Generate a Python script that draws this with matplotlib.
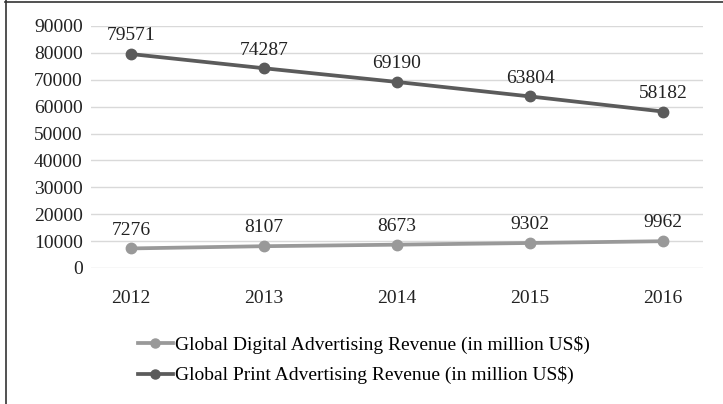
import matplotlib
matplotlib.use("Agg")
import matplotlib.pyplot as plt
from matplotlib.lines import Line2D

years = ["2012", "2013", "2014", "2015", "2016"]
digital = [7276, 8107, 8673, 9302, 9962]
print_rev = [79571, 74287, 69190, 63804, 58182]
y_ticks = [0, 10000, 20000, 30000, 40000, 50000, 60000, 70000, 80000, 90000]

digital_label = "Global Digital Advertising Revenue (in million US$)"
print_label = "Global Print Advertising Revenue (in million US$)"

plt.rcParams["font.family"] = ["Liberation Serif", "DejaVu Serif"]
FS = 14

fig = plt.figure(figsize=(7.23, 4.04), dpi=100)
ax = fig.add_axes([91 / 723, 136 / 404, 612 / 723, 242 / 404])

x = list(range(len(years)))
c_digital = "#999999"
c_print = "#5b5b5b"

ax.plot(x, digital, color=c_digital, lw=2.7, marker="o", ms=7.5, zorder=3)
ax.plot(x, print_rev, color=c_print, lw=2.7, marker="o", ms=7.5, zorder=3)

for xi, v in zip(x, digital):
    ax.annotate(f"{v}", (xi, v), xytext=(0, 7), textcoords="offset points",
                ha="center", va="bottom", fontsize=FS, color="#222222")
for xi, v in zip(x, print_rev):
    ax.annotate(f"{v}", (xi, v), xytext=(0, 7), textcoords="offset points",
                ha="center", va="bottom", fontsize=FS, color="#222222")

ax.set_xlim(-0.3, len(years) - 1 + 0.3)
ax.set_ylim(0, 90000)
ax.set_yticks(y_ticks)
ax.set_yticklabels([str(t) for t in y_ticks])
ax.set_xticks(x)
ax.set_xticklabels(years)
ax.grid(axis="y", color="#d9d9d9", lw=1.0, zorder=0)
ax.set_axisbelow(True)
for s in ax.spines.values():
    s.set_visible(False)
ax.tick_params(axis="both", length=0, labelsize=FS, colors="#222222")
ax.tick_params(axis="y", pad=6)
ax.tick_params(axis="x", pad=16)

handles = [
    Line2D([], [], color=c_digital, lw=2.7, marker="o", ms=6.5),
    Line2D([], [], color=c_print, lw=2.7, marker="o", ms=6.5),
]
fig.legend(handles, [digital_label, print_label], loc="center",
           bbox_to_anchor=(0.503, 44 / 404), frameon=False, fontsize=FS,
           handlelength=1.8, handletextpad=0.12, labelspacing=0.65)

# border on the left and top edges of the figure
fig.add_artist(Line2D([5.5 / 723, 5.5 / 723], [0, 1], color="#333333", lw=1.2,
                      transform=fig.transFigure))
fig.add_artist(Line2D([5 / 723, 1], [1 - 1.5 / 404, 1 - 1.5 / 404], color="#333333",
                      lw=1.2, transform=fig.transFigure))

fig.savefig("out.png", dpi=100)
